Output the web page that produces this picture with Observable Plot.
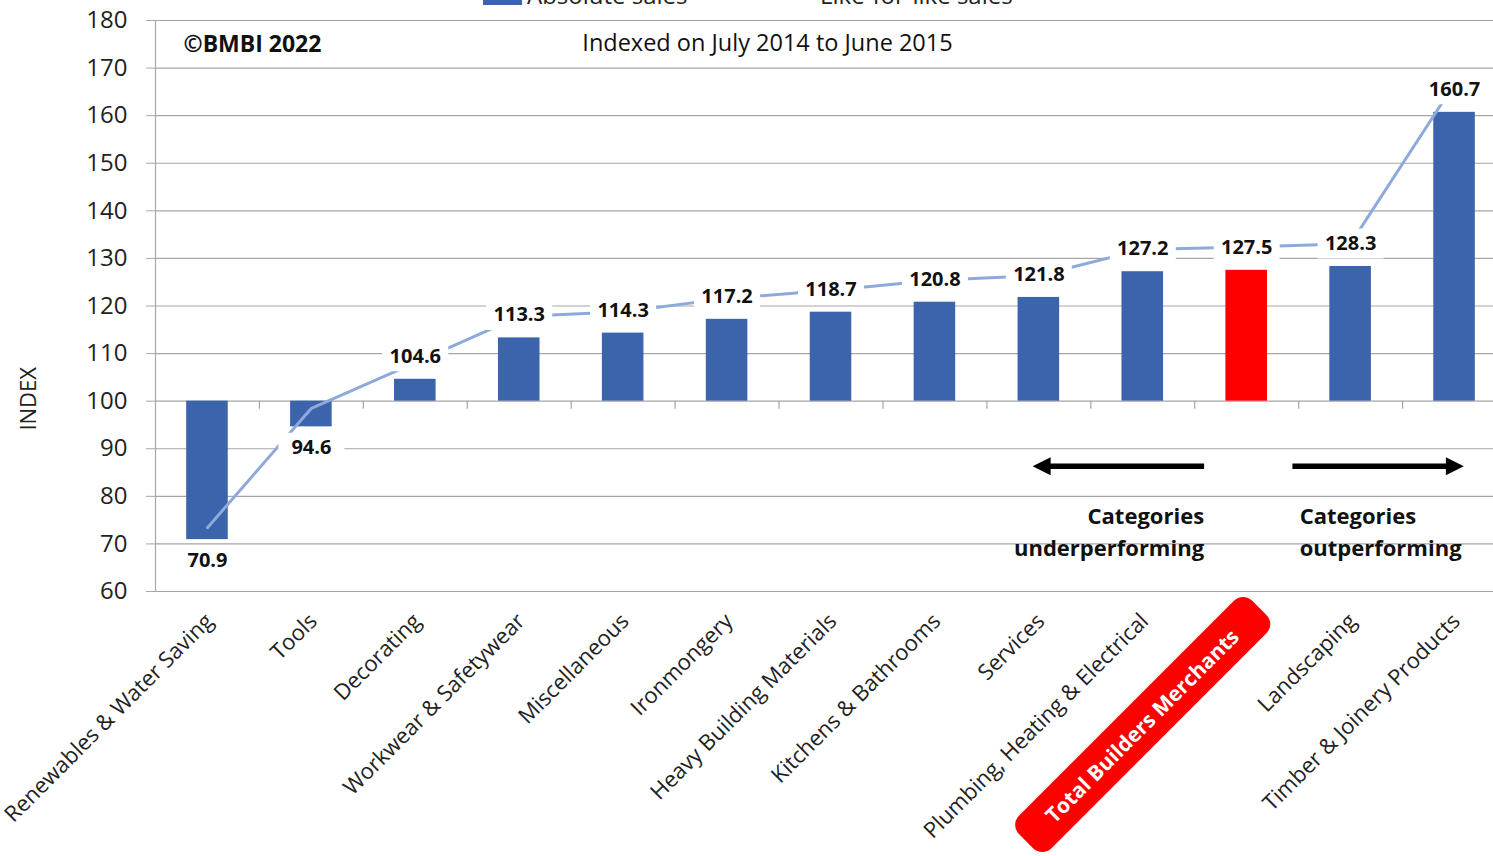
<!DOCTYPE html>
<html><head><meta charset="utf-8">
<script src="https://cdn.jsdelivr.net/npm/d3@7"></script>
<script src="https://cdn.jsdelivr.net/npm/@observablehq/plot@0.6"></script>
<style>
html,body{margin:0;padding:0;background:#fff;overflow:hidden;width:1493px;height:856px;}
#wrap{position:relative;width:1510px;height:856px;font-family:'Open Sans',sans-serif;color:#222;}
#wrap svg{max-width:none !important;}
.leg{position:absolute;font-size:24px;line-height:24px;white-space:nowrap;}
</style></head><body><div id="wrap"></div>
<script>
const categories = ["Renewables & Water Saving","Tools","Decorating","Workwear & Safetywear","Miscellaneous","Ironmongery","Heavy Building Materials","Kitchens & Bathrooms","Services","Plumbing, Heating & Electrical","Total Builders Merchants","Landscaping","Timber & Joinery Products"];
const absoluteSales = [70.9, 94.6, 104.6, 113.3, 114.3, 117.2, 118.7, 120.8, 121.8, 127.2, 127.5, 128.3, 160.7];
const likeForLike = [73.4, 98.5, 108.1, 117.8, 118.8, 121.6, 123.3, 125.4, 126.4, 131.9, 132.4, 133.1, 166.7];
const yTicks = [60, 70, 80, 90, 100, 110, 120, 130, 140, 150, 160, 170, 180];
const highlight = "Total Builders Merchants";
const legendLabels = ["Absolute sales", "Like-for-like sales"];
const yLabel = "INDEX";
const copyright = "©BMBI 2022";
const subtitle = "Indexed on July 2014 to June 2015";
const underText = "Categories\nunderperforming";
const outText = "Categories\noutperforming";

const BLUE = "#3c64ac", RED = "#ff0000", LINE = "#8eaadb", GRID = "#a6a6a6";

const rows = categories.map((name, i) => ({i, name, abs: absoluteSales[i], lfl: likeForLike[i], hi: name === highlight}));
const boundaries = categories.slice(1).map((_, i) => i + 0.5);

const boxSymbol = {draw(ctx) { ctx.rect(-33, -15, 66, 30); }};
const leftHead = {draw(ctx) { ctx.moveTo(0, 0); ctx.lineTo(18, -9); ctx.lineTo(18, 9); ctx.closePath(); }};
const rightHead = {draw(ctx) { ctx.moveTo(0, 0); ctx.lineTo(-18, -9); ctx.lineTo(-18, 9); ctx.closePath(); }};
const pill = {draw(ctx) {
  const L = 330, T = 46, r = 13, c = Math.SQRT1_2;
  const p = (u, v) => [c * (u + v), c * (-u + v)];
  ctx.moveTo(...p(-L/2 + r, -T/2));
  ctx.arcTo(...p(L/2, -T/2), ...p(L/2, T/2), r);
  ctx.arcTo(...p(L/2, T/2), ...p(-L/2, T/2), r);
  ctx.arcTo(...p(-L/2, T/2), ...p(-L/2, -T/2), r);
  ctx.arcTo(...p(-L/2, -T/2), ...p(L/2, -T/2), r);
  ctx.closePath();
}};

const up = rows.filter(d => d.abs >= 100), down = rows.filter(d => d.abs < 100);

const chart = Plot.plot({
  width: 1510, height: 856,
  marginLeft: 155, marginRight: 4, marginTop: 20, marginBottom: 265,
  style: {fontFamily: "'Open Sans', sans-serif", fontSize: "22px", color: "#222", background: "white", maxWidth: "none"},
  x: {domain: [-0.5, categories.length - 0.5], axis: null},
  y: {domain: [yTicks[0], yTicks[yTicks.length - 1]], axis: null},
  marks: [
    Plot.ruleY(yTicks, {stroke: GRID, strokeWidth: 1.2}),
    Plot.ruleX([-0.5], {stroke: GRID, strokeWidth: 1.2}),
    Plot.axisY({ticks: yTicks, tickSize: 9, tickPadding: 19, fontSize: 24, stroke: GRID, fill: "#222", label: null}),
    Plot.text([yLabel], {frameAnchor: "left", y: 100.5, dx: -127, rotate: -90, textAnchor: "middle", lineAnchor: "middle", fontSize: 22, fill: "#222"}),
    Plot.rectY(rows.filter(d => !d.hi), {x1: d => d.i - 0.2, x2: d => d.i + 0.2, y1: 100, y2: "abs", fill: BLUE}),
    Plot.rectY(rows.filter(d => d.hi), {x1: d => d.i - 0.2, x2: d => d.i + 0.2, y1: 100, y2: "abs", fill: RED}),
    Plot.ruleX(boundaries, {y1: 100, y2: 98.3, stroke: GRID, strokeWidth: 1.2}),
    Plot.line(rows, {x: "i", y: "lfl", stroke: LINE, strokeWidth: 3}),
    Plot.dot(up, {x: "i", y: "abs", dy: -23, symbol: boxSymbol, r: 5, fill: "white", stroke: "none"}),
    Plot.dot(down, {x: "i", y: "abs", dy: 21, symbol: boxSymbol, r: 5, fill: "white", stroke: "none"}),
    Plot.text(up, {x: "i", y: "abs", dy: -23, text: d => d.abs.toFixed(1), fontWeight: "bold", fontSize: 20, fill: "#111"}),
    Plot.text(down, {x: "i", y: "abs", dy: 21, text: d => d.abs.toFixed(1), fontWeight: "bold", fontSize: 20, fill: "#111"}),
    Plot.text([copyright], {frameAnchor: "top-left", dx: 28, dy: 24, textAnchor: "start", lineAnchor: "middle", fontWeight: "bold", fontSize: 23, fill: "#111"}),
    Plot.text([subtitle], {frameAnchor: "top-left", dx: 612, dy: 23, textAnchor: "middle", lineAnchor: "middle", fontSize: 23.5, fill: "#111"}),
    // arrows
    Plot.link([0], {x1: 9.59, x2: 8.1, y1: 86.3, y2: 86.3, stroke: "black", strokeWidth: 5.5}),
    Plot.dot([0], {x: 7.94, y: 86.3, symbol: leftHead, r: 5, fill: "black", stroke: "none"}),
    Plot.link([0], {x1: 10.44, x2: 11.93, y1: 86.3, y2: 86.3, stroke: "black", strokeWidth: 5.5}),
    Plot.dot([0], {x: 12.09, y: 86.3, symbol: rightHead, r: 5, fill: "black", stroke: "none"}),
    Plot.text([underText], {x: 9.59, y: 73.0, textAnchor: "end", lineAnchor: "middle", lineHeight: 1.45, fontWeight: "bold", fontSize: 22, fill: "#111"}),
    Plot.text([outText], {x: 10.51, y: 73.0, textAnchor: "start", lineAnchor: "middle", lineHeight: 1.45, fontWeight: "bold", fontSize: 22, fill: "#111"}),
    // category labels
    Plot.text(rows.filter(d => !d.hi), {x: "i", frameAnchor: "bottom", text: "name", rotate: -45, textAnchor: "end", lineAnchor: "middle", dx: 2, dy: 26, fontSize: 22, fill: "#222"}),
    Plot.dot(rows.filter(d => d.hi), {x: "i", frameAnchor: "bottom", dx: -104, dy: 133, symbol: pill, r: 5, fill: RED, stroke: "none"}),
    Plot.text(rows.filter(d => d.hi), {x: "i", frameAnchor: "bottom", dx: -104, dy: 135, text: "name", rotate: -45, textAnchor: "middle", lineAnchor: "middle", fontSize: 21, fontWeight: "bold", fill: "white"})
  ]
});

const wrap = document.getElementById("wrap");
wrap.appendChild(chart);
chart.style.position = "absolute"; chart.style.left = "0px"; chart.style.top = "0px";
chart.style.maxWidth = "none"; chart.style.width = "1510px"; chart.style.height = "856px";

// legend (clipped at the top, as in the reference)
const sw = document.createElement("div");
sw.style.cssText = `position:absolute;left:483px;top:-9px;width:39px;height:14px;background:${BLUE};`;
wrap.appendChild(sw);
const t1 = document.createElement("div"); t1.className = "leg"; t1.style.left = "527px"; t1.style.top = "-17px"; t1.textContent = legendLabels[0];
wrap.appendChild(t1);
const ln = document.createElement("div");
ln.style.cssText = `position:absolute;left:768px;top:-7px;width:46px;height:3px;background:${LINE};`;
wrap.appendChild(ln);
const t2 = document.createElement("div"); t2.className = "leg"; t2.style.left = "820px"; t2.style.top = "-17px"; t2.textContent = legendLabels[1];
wrap.appendChild(t2);
</script>
</body></html>
